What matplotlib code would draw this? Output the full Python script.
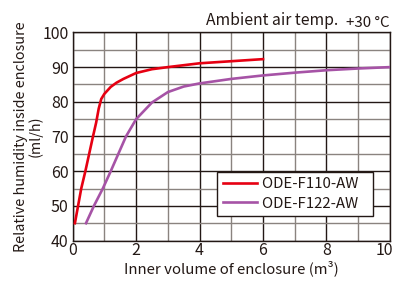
import matplotlib
matplotlib.use("Agg")
from matplotlib import pyplot as plt
from matplotlib.transforms import ScaledTranslation

plt.rcParams['font.family'] = ['Noto Sans CJK JP', 'DejaVu Sans']

# ODE-F110-AW
f110_x = [0.07, 0.17, 0.27, 0.4, 0.52, 0.64, 0.74, 0.82, 0.9, 1.0, 1.2, 1.38, 1.6, 2.0, 2.5, 3.0, 4.0, 5.0, 6.0]
f110_y = [45, 50, 55, 60, 65, 70, 74, 78, 80.8, 82.3, 84.3, 85.5, 86.6, 88.3, 89.4, 90.0, 91.1, 91.7, 92.3]

# ODE-F122-AW
f122_x = [0.42, 0.67, 0.95, 1.2, 1.44, 1.68, 2.0, 2.5, 3.0, 3.5, 4.0, 5.0, 6.0, 7.0, 8.0, 9.0, 10.0]
f122_y = [45, 50, 55, 60, 65, 70, 75, 79.8, 82.8, 84.4, 85.3, 86.6, 87.6, 88.4, 89.1, 89.6, 90.0]

x_ticks = [0, 2, 4, 6, 8, 10]
y_ticks = [40, 50, 60, 70, 80, 90, 100]

fig = plt.figure(figsize=(3.95, 2.82), dpi=100)
ax = fig.add_axes([0.184, 0.147, 0.803, 0.738])

black = '#231815'
gray = '#8a837f'

ax.set_xlim(0, 10)
ax.set_ylim(40, 100)
ax.set_xticks(x_ticks)
ax.set_yticks(y_ticks)
ax.set_xticks(range(0, 11), minor=True)
ax.set_yticks(range(40, 101, 5), minor=True)
ax.grid(True, which='minor', color=gray, linewidth=1.0)
ax.grid(True, which='major', color=black, linewidth=1.0)
ax.set_axisbelow(True)
for s in ax.spines.values():
    s.set_color(black)
    s.set_linewidth(1.0)
ax.tick_params(which='both', length=0)
ax.tick_params(axis='x', pad=1, labelsize=11.5, colors=black)
ax.tick_params(axis='y', pad=3, labelsize=11.5, colors=black)

# nudge the last x label ("10") inward so it isn't clipped
last = ax.get_xticklabels()[-1]
last.set_transform(last.get_transform() + ScaledTranslation(-4 / 72, 0, fig.dpi_scale_trans))

ax.plot(f110_x, f110_y, color='#e60012', linewidth=1.9, label='ODE-F110-AW   ', zorder=3)
ax.plot(f122_x, f122_y, color='#a653a6', linewidth=1.9, label='ODE-F122-AW   ', zorder=3)

ax.set_xlabel('Inner volume of enclosure (m³)', fontsize=10.8, color=black, labelpad=1)
ax.set_ylabel('Relative humidity inside enclosure\n(ml/h)', fontsize=10.3, color=black,
              labelpad=0, linespacing=1.0)

ax.text(0.836, 1.035, 'Ambient air temp.', transform=ax.transAxes, ha='right',
        va='baseline', fontsize=11.3, color=black)
ax.text(1.0, 1.025, '+30 °C', transform=ax.transAxes, ha='right',
        va='baseline', fontsize=10.8, color=black)

leg = ax.legend(loc='lower left', bbox_to_anchor=(0.456, 0.118), fontsize=10.8,
                frameon=True, fancybox=False, framealpha=1, edgecolor=black,
                handlelength=2.3, handletextpad=0.3, borderpad=0.35,
                labelspacing=0.35, borderaxespad=0)
leg.get_frame().set_linewidth(1.0)
for t in leg.get_texts():
    t.set_color(black)

fig.savefig('out.png', dpi=100)
